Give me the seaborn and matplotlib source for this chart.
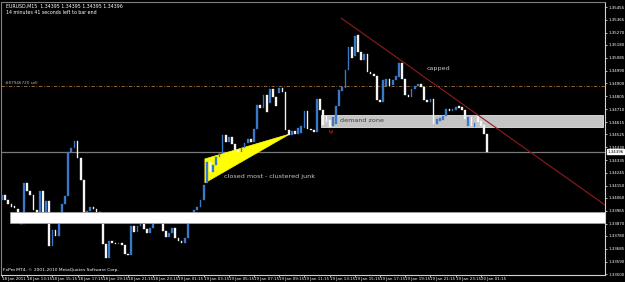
import numpy as np
import pandas as pd
import matplotlib
matplotlib.use("Agg")
import matplotlib.pyplot as plt
from matplotlib.patches import Rectangle, Polygon
import matplotlib.transforms as mtransforms
import seaborn as sns

# ---------------- data (EURUSD M15) ----------------
opens = [1.34044, 1.34081, 1.34044, 1.34015, 1.34000, 1.33978, 1.33912, 1.33868, 1.34169, 1.34110,
         1.34081, 1.33971, 1.33919, 1.34110, 1.33949, 1.34037, 1.33707, 1.33824, 1.33780, 1.33890,
         1.34015, 1.34073, 1.34396, 1.34425, 1.34477, 1.34352, 1.34191, 1.33912, 1.33963, 1.33993,
         1.33978, 1.33956, 1.33927, 1.33721, 1.33619, 1.33744, 1.33729, 1.33721, 1.33729, 1.33714,
         1.33648, 1.33641, 1.33853, 1.33809, 1.33853, 1.33868, 1.33831, 1.33802, 1.33839, 1.33875,
         1.33905, 1.33890, 1.33817, 1.33773, 1.33802, 1.33839, 1.33766, 1.33744, 1.33729, 1.33766,
         1.33890, 1.33934, 1.33971, 1.33993, 1.34044, 1.34169, 1.34322, 1.34249, 1.34300, 1.34359,
         1.34388, 1.34520, 1.34469, 1.34506, 1.34454, 1.34411, 1.34396, 1.34425, 1.34462, 1.34491,
         1.34469, 1.34564, 1.34740, 1.34718, 1.34814, 1.34755, 1.34858, 1.34799, 1.34828, 1.34865,
         1.34836, 1.34557, 1.34520, 1.34550, 1.34528, 1.34535, 1.34572, 1.34696, 1.34564, 1.34557,
         1.34542, 1.34784, 1.34704, 1.34660, 1.34630, 1.34586, 1.34601, 1.34733, 1.34843, 1.34865,
         1.34997, 1.35165, 1.35100, 1.35253, 1.35129, 1.35070, 1.35114, 1.34982, 1.34968, 1.34953,
         1.34777, 1.34762, 1.34880, 1.34931, 1.34887, 1.34924, 1.34946, 1.35048, 1.34931, 1.34814,
         1.34799, 1.34858, 1.34880, 1.34894, 1.34872, 1.34777, 1.34762, 1.34784, 1.34601, 1.34623,
         1.34630, 1.34660, 1.34711, 1.34696, 1.34704, 1.34733, 1.34726, 1.34704, 1.34586, 1.34652,
         1.34579, 1.34660, 1.34623, 1.34594, 1.34528]
closes = [1.34081, 1.34044, 1.34015, 1.33993, 1.33985, 1.33897, 1.33868, 1.34169, 1.34110, 1.34081,
          1.33971, 1.33897, 1.34110, 1.33934, 1.34037, 1.33707, 1.33824, 1.33780, 1.33890, 1.34015,
          1.34073, 1.34396, 1.34425, 1.34477, 1.34352, 1.34191, 1.33912, 1.33963, 1.33993, 1.33978,
          1.33956, 1.33927, 1.33721, 1.33619, 1.33744, 1.33729, 1.33721, 1.33729, 1.33714, 1.33648,
          1.33641, 1.33853, 1.33809, 1.33853, 1.33868, 1.33831, 1.33802, 1.33839, 1.33875, 1.33905,
          1.33890, 1.33817, 1.33773, 1.33802, 1.33839, 1.33766, 1.33744, 1.33729, 1.33766, 1.33890,
          1.33941, 1.33971, 1.33993, 1.34044, 1.34154, 1.34322, 1.34249, 1.34300, 1.34359, 1.34388,
          1.34520, 1.34469, 1.34506, 1.34454, 1.34411, 1.34396, 1.34425, 1.34462, 1.34491, 1.34469,
          1.34564, 1.34740, 1.34718, 1.34814, 1.34689, 1.34858, 1.34799, 1.34733, 1.34865, 1.34836,
          1.34557, 1.34520, 1.34550, 1.34528, 1.34572, 1.34586, 1.34696, 1.34564, 1.34557, 1.34542,
          1.34784, 1.34704, 1.34594, 1.34616, 1.34579, 1.34652, 1.34733, 1.34850, 1.34872, 1.34997,
          1.35165, 1.35085, 1.35246, 1.35129, 1.35070, 1.35114, 1.34982, 1.34968, 1.34953, 1.34777,
          1.34762, 1.34924, 1.34931, 1.34880, 1.34924, 1.34953, 1.35048, 1.34931, 1.34814, 1.34799,
          1.34858, 1.34880, 1.34894, 1.34872, 1.34777, 1.34762, 1.34784, 1.34601, 1.34638, 1.34645,
          1.34660, 1.34711, 1.34696, 1.34711, 1.34726, 1.34718, 1.34704, 1.34638, 1.34652, 1.34586,
          1.34608, 1.34616, 1.34586, 1.34528, 1.34396]

time_labels = ["18 Jan 2011", "18 Jan 13:15", "18 Jan 15:15", "18 Jan 17:15", "18 Jan 19:15",
               "18 Jan 21:15", "18 Jan 23:15", "19 Jan 01:15", "19 Jan 03:15", "19 Jan 05:15",
               "19 Jan 07:15", "19 Jan 09:15", "19 Jan 11:15", "19 Jan 13:15", "19 Jan 15:15",
               "19 Jan 17:15", "19 Jan 19:15", "19 Jan 21:15", "19 Jan 23:15", "20 Jan 01:15"]
price_ticks = [1.35455, 1.35365, 1.35270, 1.35180, 1.35085, 1.34990, 1.34900, 1.34805, 1.34710,
               1.34615, 1.34525, 1.34430, 1.34335, 1.34245, 1.34150, 1.34060, 1.33965, 1.33870,
               1.33780, 1.33685, 1.33590, 1.33500]

bid_price = 1.34396
sell_level = 1.34880
support_zone = [2.5, 191.4, 1.33875, 1.33956]      # x0, x1, low, high
demand_zone = [101.3, 190.8, 1.34579, 1.34667]
wedge_x = [64.4, 64.4, 91.4]
wedge_y = [1.34345, 1.34169, 1.34528]
trend_x = [107.6, 191.4]
trend_y = [1.35378, 1.34007]

# ---------------- figure ----------------
sns.set_theme(style="dark", rc={"axes.facecolor": "black", "figure.facecolor": "black"})
plt.rcParams["font.family"] = ["DejaVu Sans"]
NARROW = "Liberation Sans Narrow"

W, H = 625, 282
fig = plt.figure(figsize=(W / 100, H / 100), dpi=100, facecolor="black")
ax = fig.add_axes([1 / W, 7 / H, 604 / W, 273 / H])
ax.set_facecolor("black")
ax.set_xlim(-0.32, 191.4)
ax.set_ylim(1.33494, 1.35495)

idx = np.arange(len(opens))
o = np.array(opens)
c = np.array(closes)
bull = c >= o
colors = np.where(bull, "#3a78c8", "#f4f4f4")
ax.bar(idx, c - o, bottom=o, width=0.55, color=colors, edgecolor=colors, linewidth=0.25, zorder=3)

# zones
ax.add_patch(Rectangle((support_zone[0], support_zone[2]), support_zone[1] - support_zone[0],
                       support_zone[3] - support_zone[2], facecolor="white", edgecolor="#a0a0a0",
                       linewidth=0.6, zorder=4))
ax.add_patch(Rectangle((demand_zone[0], demand_zone[2]), demand_zone[1] - demand_zone[0],
                       demand_zone[3] - demand_zone[2], facecolor="#c4c4c4", edgecolor="#e6e6e6",
                       linewidth=0.6, zorder=2))
ax.add_patch(Polygon(list(zip(wedge_x, wedge_y)), closed=True, facecolor="#ffff00",
                     edgecolor="#ffff00", linewidth=0.5, zorder=2))

# lines
ax.axhline(bid_price, color="#7a7a7a", linewidth=0.9, zorder=1)
ax.axhline(sell_level, color="#b07840", linewidth=0.6, linestyle=(0, (4, 2, 1, 2)), zorder=1)
sns.lineplot(x=trend_x, y=trend_y, ax=ax, color="#8e1c1c", linewidth=0.8, zorder=5)

# annotations
ax.text(0.8, sell_level + 0.00004, "#87946720 sell", color="#b0b0b0", fontsize=3.0,
        va="bottom", ha="left", fontfamily=NARROW)
ax.text(70.5, 1.34213, "closed most - clustered junk", color="#c8c8c8", fontsize=4.6,
        va="center", ha="left", zorder=6)
ax.text(134.9, 1.35004, "capped", color="#c8c8c8", fontsize=4.6, va="center", ha="left")
ax.text(107.3, 1.34623, "demand zone", color="#404040", fontsize=4.6, va="center", ha="left",
        zorder=6)
ax.text(104.4, 1.34545, "ψ", color="#d02020", fontsize=4.5, va="center", ha="center")

# axes styling
for s in ["left", "top"]:
    ax.spines[s].set_color("#808080")
    ax.spines[s].set_linewidth(0.8)
for s in ["right", "bottom"]:
    ax.spines[s].set_color("#d0d0d0")
    ax.spines[s].set_linewidth(0.8)

ax.set_xticks(idx[::8])
ax.set_xticklabels(time_labels, ha="left", fontsize=2.9, color="white", fontfamily=NARROW)
ax.tick_params(axis="x", length=1.2, width=0.5, pad=0.4, colors="white", direction="out",
               bottom=True)
ax.yaxis.tick_right()
ax.set_yticks(price_ticks)
ax.set_yticklabels([f"{v:.5f}" for v in price_ticks], fontsize=2.9, color="white",
                   fontfamily=NARROW)
ax.tick_params(axis="y", length=1.5, width=0.5, pad=1.0, colors="white", direction="out",
               right=True)
ax.grid(False)
ax.set_xlabel("")
ax.set_ylabel("")

# bid price box on the price scale
trans = mtransforms.blended_transform_factory(ax.transAxes, ax.transData)
ax.text(1.0045, bid_price, f"{bid_price:.5f}", transform=trans, fontsize=2.9, color="black",
        va="center", ha="left", fontfamily=NARROW,
        bbox=dict(boxstyle="square,pad=0.12", facecolor="white", edgecolor="white"), zorder=10,
        clip_on=False)

# header & footer texts
fig.text(6 / W, 1 - 6 / H, "EURUSD,M15  1.34395 1.34395 1.34395 1.34396", color="white",
         fontsize=3.4, va="center", ha="left", fontfamily=NARROW)
fig.text(6 / W, 1 - 12 / H, "14 minutes 41 seconds left to bar end", color="white",
         fontsize=3.4, va="center", ha="left", fontfamily=NARROW)
fig.text(3 / W, 1 - 270 / H, "FxPro MT4, © 2001-2010 MetaQuotes Software Corp.", color="white",
         fontsize=3.2, va="center", ha="left", fontfamily=NARROW)

fig.savefig("out.png", dpi=100, facecolor="black")
